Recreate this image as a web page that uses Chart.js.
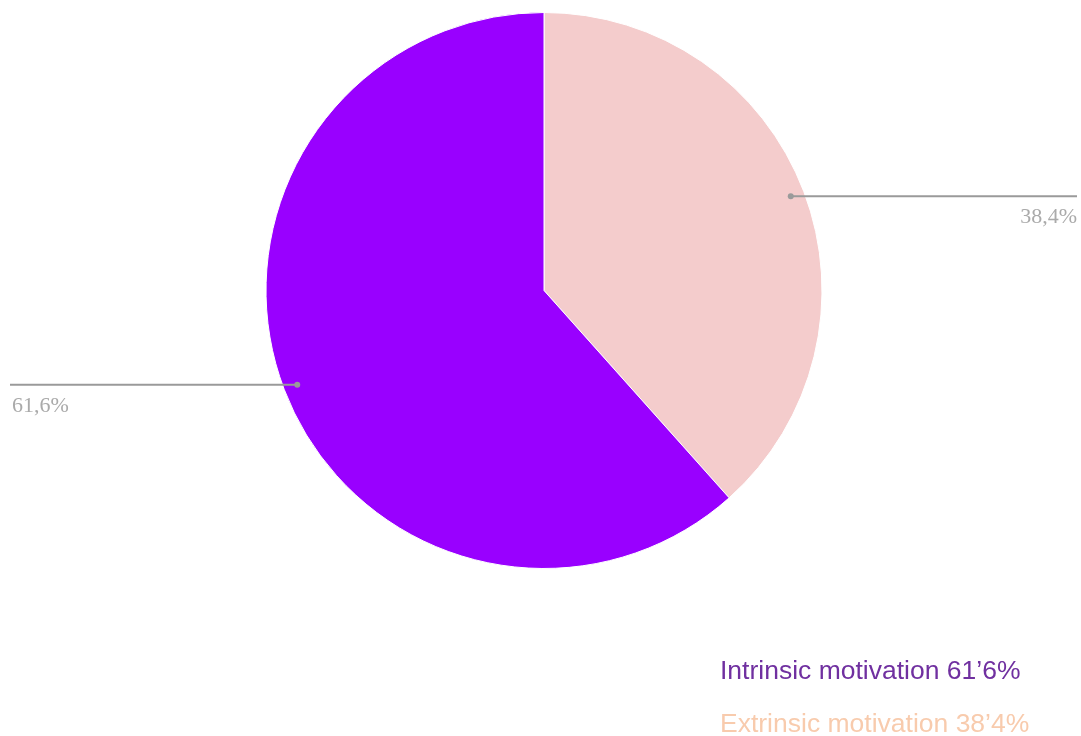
<!DOCTYPE html>
<html>
<head>
<meta charset="utf-8">
<script src="https://cdn.jsdelivr.net/npm/chart.js@4"></script>
<style>
    html, body { margin: 0; padding: 0; background: #fff; }
    #wrap { width: 1081px; height: 736px; position: relative; }
</style>
</head>
<body>
<div id="wrap"><canvas id="pieChart" width="1081" height="736"></canvas></div>
<script>
// -------------------------------------------------------------------------- Data
const categories = ['Extrinsic motivation', 'Intrinsic motivation']
const values = [38.4, 61.6]
const sliceColors = ['#f4cccc', '#9900ff']
const legendColors = ['#f8cbad', '#7030a0']
// legend order as in the picture: intrinsic first
const legendOrder = [1, 0]

// -------------------------------------------------------------------------- Leader line labels
const leaderLabels = {
    id: 'leaderLabels',
    afterDatasetsDraw(chart) {
        const ctx = chart.ctx
        const meta = chart.getDatasetMeta(0)
        ctx.save()
        meta.data.forEach((arc, i) => {
            const mid = (arc.startAngle + arc.endAngle) / 2
            const r = arc.outerRadius * 0.95
            const px = arc.x + Math.cos(mid) * r
            const py = arc.y + Math.sin(mid) * r
            const right = Math.cos(mid) >= 0
            const endX = right ? chart.width - 4 : 10

            ctx.strokeStyle = '#9a9a9a'
            ctx.lineWidth = 2
            ctx.beginPath()
            ctx.moveTo(px, py)
            ctx.lineTo(endX, py)
            ctx.stroke()

            ctx.fillStyle = '#9a9a9a'
            ctx.beginPath()
            ctx.arc(px, py, 3, 0, Math.PI * 2)
            ctx.fill()

            ctx.font = '22px "Liberation Serif", "Times New Roman", serif'
            ctx.fillStyle = '#aaaaaa'
            ctx.textAlign = right ? 'right' : 'left'
            ctx.textBaseline = 'alphabetic'
            ctx.fillText(values[i].toFixed(1).replace('.', ',') + '%', right ? endX : endX + 2, py + 27)
        })
        ctx.restore()
    }
}

// -------------------------------------------------------------------------- Text legend
const textLegend = {
    id: 'textLegend',
    afterDraw(chart) {
        const ctx = chart.ctx
        ctx.save()
        ctx.font = '26.5px "Liberation Sans", Arial, sans-serif'
        ctx.textAlign = 'left'
        ctx.textBaseline = 'alphabetic'
        legendOrder.forEach((idx, row) => {
            ctx.fillStyle = legendColors[idx]
            const txt = categories[idx] + ' ' + values[idx].toFixed(1).replace('.', '’') + '%'
            ctx.fillText(txt, 720, 679 + row * 53)
        })
        ctx.restore()
    }
}

// -------------------------------------------------------------------------- Render
const configPieChart = {
    type: 'pie',
    data: {
        labels: categories,
        datasets: [{
            data: values,
            backgroundColor: sliceColors,
            borderColor: '#ffffff',
            borderWidth: 1
        }]
    },
    options: {
        responsive: false,
        animation: false,
        layout: {
            padding: { top: 12, bottom: 167, left: 265, right: 258 }
        },
        plugins: {
            legend: { display: false },
            tooltip: { enabled: false }
        }
    },
    plugins: [leaderLabels, textLegend]
}

let pieChart = new Chart(document.getElementById('pieChart'), configPieChart)
</script>
</body>
</html>
